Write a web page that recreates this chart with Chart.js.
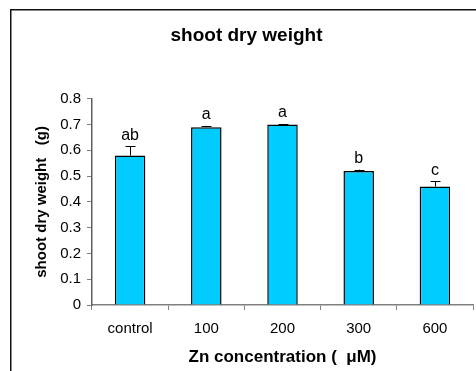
<!DOCTYPE html>
<html>
<head>
<meta charset="utf-8">
<script src="https://cdn.jsdelivr.net/npm/chart.js@4"></script>
<style>
    html, body { margin: 0; padding: 0; background: #fff; overflow: hidden; }
    #wrap { width: 476px; height: 371px; }
</style>
</head>
<body>
<div id="wrap"><canvas id="graficoPeso" width="476" height="371"></canvas></div>
<script>
// Dati del grafico
const categorie = ['control', '100', '200', '300', '600'];
const pesoSecco = [0.58, 0.69, 0.70, 0.52, 0.46];
const erroreStd = [0.035, 0.005, 0.002, 0.005, 0.02];
const lettere = ['ab', 'a', 'a', 'b', 'c'];
const tickY = [0, 0.1, 0.2, 0.3, 0.4, 0.5, 0.6, 0.7, 0.8];

const FONT = 'Arial, "Liberation Sans", sans-serif';

// Plugin per bordo, barre di errore e lettere
const pluginExtra = {
    id: 'pluginExtra',
    afterDatasetsDraw(chart) {
        const ctx = chart.ctx;
        const meta = chart.getDatasetMeta(0);
        const y = chart.scales.y;
        ctx.save();
        // barre di errore
        ctx.strokeStyle = '#000';
        ctx.lineWidth = 1;
        meta.data.forEach((bar, i) => {
            const x = Math.round(bar.x) + 0.5;
            const yTop = y.getPixelForValue(pesoSecco[i] + erroreStd[i]);
            const yVal = y.getPixelForValue(pesoSecco[i]);
            ctx.beginPath();
            ctx.moveTo(x, yVal);
            ctx.lineTo(x, yTop);
            ctx.moveTo(x - 5, Math.round(yTop) + 0.5);
            ctx.lineTo(x + 5, Math.round(yTop) + 0.5);
            ctx.stroke();
        });
        // lettere di significatività
        ctx.fillStyle = '#000';
        ctx.font = '16px ' + FONT;
        ctx.textAlign = 'center';
        ctx.textBaseline = 'bottom';
        meta.data.forEach((bar, i) => {
            const yTop = y.getPixelForValue(pesoSecco[i] + erroreStd[i]);
            ctx.fillText(lettere[i], bar.x, yTop - 3);
        });
        ctx.restore();
    },
    afterDraw(chart) {
        // bordo esterno: solo lato sinistro e superiore sono visibili
        const ctx = chart.ctx;
        ctx.save();
        ctx.fillStyle = '#111';
        ctx.fillRect(10, 9, 1.5, chart.height - 9);
        ctx.fillRect(10, 9, chart.width - 10, 1.5);
        ctx.restore();
    }
};

const ctx = document.getElementById('graficoPeso').getContext('2d');
new Chart(ctx, {
    type: 'bar',
    data: {
        labels: categorie,
        datasets: [{
            data: pesoSecco,
            backgroundColor: '#00CCFF',
            borderColor: '#000',
            borderWidth: 1.5,
            barPercentage: 0.4,
            categoryPercentage: 1
        }]
    },
    options: {
        responsive: false,
        animation: false,
        layout: { padding: { left: 20, right: 3, top: 0, bottom: 0 } },
        plugins: {
            legend: { display: false },
            tooltip: { enabled: false },
            title: {
                display: true,
                text: 'shoot dry weight',
                color: '#000',
                font: { family: FONT, size: 19, weight: 'bold' },
                padding: { top: 24, bottom: 52 }
            }
        },
        scales: {
            x: {
                afterFit(scale) { scale.height = 66; },
                grid: {
                    drawOnChartArea: false,
                    offset: true,
                    tickLength: 5,
                    color: '#808080'
                },
                border: { color: '#808080', width: 1.5 },
                ticks: {
                    color: '#000',
                    padding: 10,
                    font: { family: FONT, size: 15 }
                },
                title: {
                    display: true,
                    text: 'Zn concentration (  μM)',
                    color: '#000',
                    font: { family: FONT, size: 17, weight: 'bold' },
                    padding: { top: 0, bottom: 3 }
                }
            },
            y: {
                min: 0,
                max: 0.8,
                afterFit(scale) { scale.width = 72; },
                afterBuildTicks(scale) { scale.ticks = tickY.map(v => ({ value: v })); },
                grid: {
                    drawOnChartArea: false,
                    tickLength: 5,
                    color: '#808080'
                },
                border: { color: '#606060', width: 1.5 },
                ticks: {
                    color: '#000',
                    padding: 6,
                    font: { family: FONT, size: 15 },
                    callback: v => v === 0 ? '0' : v.toFixed(1)
                },
                title: {
                    display: true,
                    text: 'shoot dry weight   (g)',
                    color: '#000',
                    font: { family: FONT, size: 15, weight: 'bold' },
                    padding: { top: 13, bottom: 0 }
                }
            }
        }
    },
    plugins: [pluginExtra]
});
</script>
</body>
</html>
